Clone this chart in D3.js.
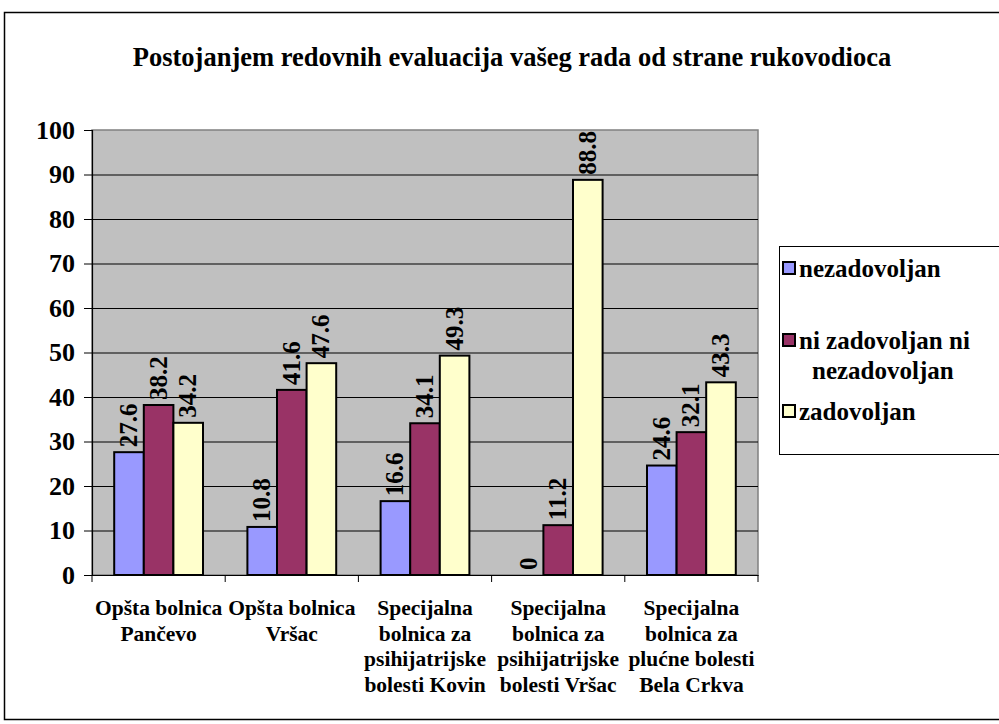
<!DOCTYPE html>
<html>
<head>
<meta charset="utf-8">
<script src="https://cdn.jsdelivr.net/npm/d3@7"></script>
<style>
  body { margin: 0; background: #fff; }
  svg { display: block; }
  text { font-family: "Liberation Serif", "Times New Roman", serif; font-weight: bold; fill: #000; }
</style>
</head>
<body>
<svg id="chart"></svg>
<script>
// chart data
const categories = [
  ["Opšta bolnica", "Pančevo"],
  ["Opšta bolnica", "Vršac"],
  ["Specijalna", "bolnica za", "psihijatrijske", "bolesti Kovin"],
  ["Specijalna", "bolnica za", "psihijatrijske", "bolesti Vršac"],
  ["Specijalna", "bolnica za", "plućne bolesti", "Bela Crkva"]
];
const seriesNames = ["nezadovoljan", "ni zadovoljan ni nezadovoljan", "zadovoljan"];
const nezadovoljan = [27.6, 10.8, 16.6, 0, 24.6];
const niNi = [38.2, 41.6, 34.1, 11.2, 32.1];
const zadovoljan = [34.2, 47.6, 49.3, 88.8, 43.3];
const yTicks = [0, 10, 20, 30, 40, 50, 60, 70, 80, 90, 100];
const title = "Postojanjem redovnih evaluacija vašeg rada od strane rukovodioca";

const seriesValues = [nezadovoljan, niNi, zadovoljan];
const colors = ["#9999FF", "#993366", "#FFFFCC"];

const width = 999, height = 724;
const plot = { left: 92, right: 758, top: 130, bottom: 575 };

const svg = d3.select("#chart").attr("width", width).attr("height", height);

// outer frame
svg.append("rect")
  .attr("x", 4.5).attr("y", 12.5)
  .attr("width", 1000).attr("height", 707)
  .attr("fill", "#fff").attr("stroke", "#000").attr("stroke-width", 1.5);

svg.append("text")
  .attr("x", 512).attr("y", 66)
  .attr("text-anchor", "middle")
  .attr("font-size", 26.5)
  .text(title);

const catIdx = d3.range(categories.length);
const x0 = d3.scaleBand().domain(catIdx).range([plot.left, plot.right]).padding(0);
const x1 = d3.scaleBand().domain(d3.range(seriesNames.length))
  .range([0, x0.bandwidth()]).paddingInner(0).paddingOuter(0.75);
const y = d3.scaleLinear().domain([0, 100]).range([plot.bottom, plot.top]);

// plot area
svg.append("rect")
  .attr("x", plot.left).attr("y", plot.top)
  .attr("width", plot.right - plot.left).attr("height", plot.bottom - plot.top)
  .attr("fill", "#C0C0C0").attr("stroke", "#808080").attr("stroke-width", 1.5);

// gridlines
svg.append("g")
  .selectAll("line")
  .data(yTicks.filter(d => d > 0 && d < 100))
  .join("line")
  .attr("x1", plot.left).attr("x2", plot.right)
  .attr("y1", d => y(d) + 0.5).attr("y2", d => y(d) + 0.5)
  .attr("stroke", "#000").attr("stroke-width", 1);

// y axis
const yAxis = svg.append("g")
  .attr("transform", `translate(${plot.left},0)`)
  .call(d3.axisLeft(y).tickValues(yTicks).tickSize(8).tickPadding(9));
yAxis.select(".domain").attr("stroke", "#000").attr("stroke-width", 1.2);
yAxis.selectAll(".tick line").attr("stroke", "#000");
yAxis.selectAll(".tick text")
  .attr("font-size", 26).attr("font-family", "Liberation Serif, serif")
  .attr("font-weight", "bold").attr("fill", "#000");

// x axis
const xAxis = svg.append("g")
  .attr("transform", `translate(0,${plot.bottom})`)
  .call(d3.axisBottom(x0).tickSize(0).tickFormat(""));
xAxis.select(".domain").attr("stroke", "#000").attr("stroke-width", 1.2);
svg.append("g")
  .selectAll("line")
  .data(catIdx.concat([categories.length]))
  .join("line")
  .attr("x1", d => d < categories.length ? x0(d) : plot.right)
  .attr("x2", d => d < categories.length ? x0(d) : plot.right)
  .attr("y1", plot.bottom).attr("y2", plot.bottom + 7)
  .attr("stroke", "#000");

// category labels
const catLabels = svg.append("g")
  .selectAll("text")
  .data(categories)
  .join("text")
  .attr("text-anchor", "middle")
  .attr("font-size", 21.5)
  .attr("transform", (d, i) => `translate(${x0(i) + x0.bandwidth() / 2},615)`);
catLabels.selectAll("tspan")
  .data(d => d)
  .join("tspan")
  .attr("x", 0)
  .attr("y", (d, j) => j * 25.5)
  .text(d => d);

// bars
const groups = svg.append("g")
  .selectAll("g")
  .data(catIdx)
  .join("g")
  .attr("transform", i => `translate(${x0(i)},0)`);

groups.selectAll("rect")
  .data(i => seriesValues.map((vals, s) => ({ s, v: vals[i] })))
  .join("rect")
  .attr("x", d => x1(d.s))
  .attr("y", d => y(d.v))
  .attr("width", x1.bandwidth())
  .attr("height", d => y(0) - y(d.v))
  .attr("fill", d => colors[d.s])
  .attr("stroke", "#000")
  .attr("stroke-width", d => d.v > 0 ? 2 : 0);

// value labels
groups.selectAll("text")
  .data(i => seriesValues.map((vals, s) => ({ s, v: vals[i] })))
  .join("text")
  .attr("font-size", 25)
  .attr("text-anchor", "start")
  .attr("transform", d => `translate(${x1(d.s) + x1.bandwidth() / 2 + 8},${y(d.v) - 5}) rotate(-90)`)
  .text(d => d.v);

// legend
const legend = svg.append("g");
legend.append("rect")
  .attr("x", 779.5).attr("y", 246.5)
  .attr("width", 230).attr("height", 208)
  .attr("fill", "#fff").attr("stroke", "#000").attr("stroke-width", 1);

const legendItems = [
  { lines: ["nezadovoljan"], y: 277 },
  { lines: ["ni zadovoljan ni", "nezadovoljan"], y: 349 },
  { lines: ["zadovoljan"], y: 420 }
];
legendItems.forEach((item, s) => {
  legend.append("rect")
    .attr("x", 783).attr("y", item.y - 15)
    .attr("width", 12).attr("height", 12)
    .attr("fill", colors[s]).attr("stroke", "#000").attr("stroke-width", 2);
  const t = legend.append("text").attr("font-size", 25);
  item.lines.forEach((ln, j) => {
    t.append("tspan").attr("x", j === 0 ? 799 : 812).attr("y", item.y + j * 30).text(ln);
  });
});
</script>
</body>
</html>
